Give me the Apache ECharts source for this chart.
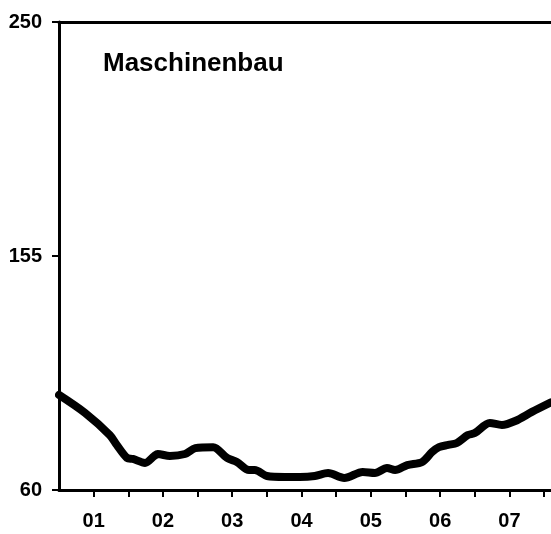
<!DOCTYPE html>
<html>
<head>
<meta charset="utf-8">
<script src="https://cdn.jsdelivr.net/npm/echarts@6/dist/echarts.min.js"></script>
<style>
html,body{margin:0;padding:0;background:#fff;}
#chart{width:551px;height:534px;}
</style>
</head>
<body>
<div id="chart"></div>
<script>
// months since start of 2001
var months = [0, 4.5, 8.8, 10, 11.8, 12.8, 14.9, 16.5, 17.1, 19.2, 21.8, 23.6, 26.7, 29.1, 30.8, 32.9, 33.9, 36, 39.1, 41.7, 44.3, 46.6, 49.4, 52.6, 54.7, 56.8, 58.2, 60.3, 62.9, 64.6, 65.8, 67.4, 68.9, 70.8, 72, 74.6, 76.7, 79, 81.9, 85.2];
var values = [98.6, 91.3, 82.3, 78.3, 73.0, 72.6, 71.0, 73.8, 74.6, 73.8, 74.6, 77.0, 77.4, 73.0, 71.4, 68.1, 68.1, 65.7, 65.3, 65.3, 65.7, 66.9, 64.9, 67.3, 66.9, 68.9, 68.1, 70.1, 71.4, 75.4, 77.4, 78.3, 79.1, 82.3, 83.1, 87.2, 86.4, 88.0, 91.7, 95.6];
var yearLabels = ['01', '02', '03', '04', '05', '06', '07'];
var yTicks = [60, 155, 250];
var title = 'Maschinenbau';

var font = 'Liberation Sans, Arial, sans-serif';
var data = months.map(function (m, i) { return [m, values[i]]; });

var chart = echarts.init(document.getElementById('chart'));
chart.setOption({
  animation: false,
  title: {
    text: title, left: 103, top: 51, padding: 0,
    textStyle: { fontFamily: font, fontWeight: 'bold', fontSize: 26, color: '#000' }
  },
  grid: { left: 59, top: 22, right: 0, bottom: 44, containLabel: false },
  xAxis: [{
    type: 'value', min: 0, max: 85.2, interval: 6,
    axisLine: { show: true, onZero: false, lineStyle: { color: '#000', width: 3 } },
    axisTick: { show: true, length: 7, lineStyle: { color: '#000', width: 2 } },
    splitLine: { show: false },
    axisLabel: {
      show: true, margin: 21, showMaxLabel: false, showMinLabel: false,
      fontFamily: font, fontWeight: 'bold', fontSize: 20, color: '#000',
      formatter: function (v) {
        var r = Math.round(v);
        if (r % 12 === 6) { var idx = (r - 6) / 12; return yearLabels[idx] || ''; }
        return '';
      }
    }
  }, {
    type: 'value', min: 0, max: 85.2, position: 'top',
    axisLine: { show: true, onZero: false, lineStyle: { color: '#000', width: 3 } },
    axisTick: { show: false }, axisLabel: { show: false }, splitLine: { show: false }
  }],
  yAxis: {
    type: 'value', min: yTicks[0], max: yTicks[2], interval: yTicks[1] - yTicks[0],
    axisLine: { show: true, lineStyle: { color: '#000', width: 3 } },
    axisTick: { show: true, length: 7, lineStyle: { color: '#000', width: 2 } },
    splitLine: { show: false },
    axisLabel: { margin: 17, fontFamily: font, fontWeight: 'bold', fontSize: 20, color: '#000' }
  },
  series: [{
    type: 'line', data: data, xAxisIndex: 0, showSymbol: false, symbol: 'none',
    smooth: 0.3, clip: true,
    lineStyle: { color: '#000', width: 8, cap: 'round', join: 'round' }
  }]
});
</script>
</body>
</html>
